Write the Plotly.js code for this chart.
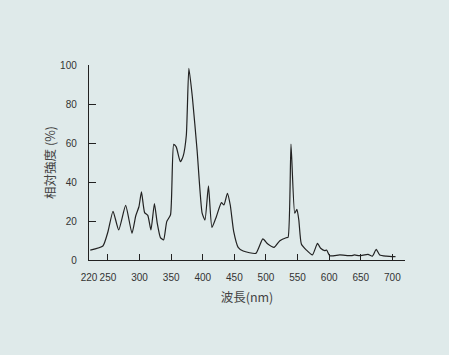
<!DOCTYPE html>
<html><head><meta charset="utf-8">
<script src="https://cdn.plot.ly/plotly-3.0.1.min.js"></script>
<style>html,body{margin:0;padding:0;background:#dfeaea;}#c{width:449px;height:355px;}</style>
</head><body><div id="c"></div>
<script>
const wavelength = [222,242,250,258,267,278,288,294,299,303,308,313,318,323.5,328,333,338,343,349,354,358,364.5,369,374,378,383.5,391,399,403.5,409,414.5,421.5,429.5,433.5,439,443.5,449,456,464,484,495,503,513,522,532,535,539.6,545.5,549,552,556,564,573.5,581.5,586.5,593,596,601,617,635,640,648,661.5,668.5,674.5,680,690.5,705];
const intensity = [5.1,7.2,14.5,25,15.4,28,13.7,22.7,27.3,34.9,24.3,22.9,15.4,28.9,18.8,11.5,10.3,19.7,23.2,59.3,58,50.4,53.3,64,98.3,83.7,56.4,24,20.5,38,16.7,22.2,29.4,28.2,34.2,28.2,14.5,6.5,4.6,3.4,10.8,8.2,6.5,9.9,11.4,11.6,59.5,24,26,20.5,8.2,5.1,2.6,8.5,6,4.8,5.1,2.2,2.6,2.2,2.6,2.2,2.9,2,5.5,2.6,2,1.7];
const xTicks = [220,250,300,350,400,450,500,550,600,650,700];
const yTicks = [0,20,40,60,80,100];

const font = {family:'Liberation Sans, Arial, sans-serif', size:10, color:'#333'};
const tfont = {family:'Noto Sans CJK JP, sans-serif', size:12.5, color:'#444'};
Plotly.newPlot('c', [{
  x: wavelength, y: intensity, type:'scatter', mode:'lines',
  line:{color:'#222', width:1.2, shape:'spline', smoothing:0.5},
  hoverinfo:'skip'
}], {
  width:449, height:355,
  paper_bgcolor:'#dfeaea', plot_bgcolor:'#dfeaea',
  margin:{l:89, r:44, t:65, b:95},
  showlegend:false,
  font: font,
  xaxis:{range:[220,720], tickvals:xTicks, ticktext:xTicks.map(String), tickangle:0,
    ticks:'inside', ticklen:6, tickcolor:'#222', tickwidth:1,
    showline:true, linecolor:'#222', linewidth:1.2, showgrid:false, zeroline:false,
    ticklabelstandoff:8, tickfont:font,
    title:{text:'波長(nm)', font:tfont, standoff:11}},
  yaxis:{range:[0,100], tickvals:yTicks, ticks:'inside', ticklen:7, tickcolor:'#222', tickwidth:1,
    showline:true, linecolor:'#222', linewidth:1.2, showgrid:false, zeroline:false,
    ticklabelstandoff:9, tickfont:font,
    title:{text:'相対強度 (%)', font:tfont, standoff:1}}
}, {staticPlot:true});
</script></body></html>
